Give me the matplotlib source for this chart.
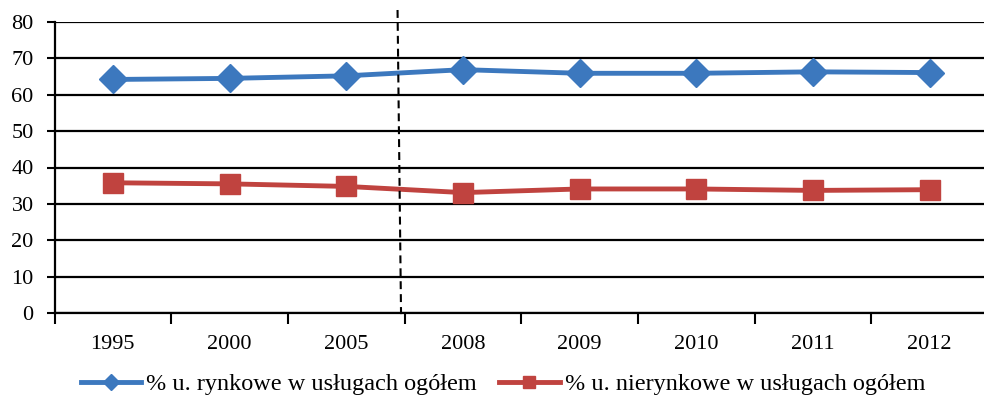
import matplotlib
matplotlib.use("Agg")
import matplotlib.pyplot as plt

years = ["1995", "2000", "2005", "2008", "2009", "2010", "2011", "2012"]
rynkowe = [64.2, 64.5, 65.2, 66.9, 65.9, 65.9, 66.3, 66.1]
nierynkowe = [35.8, 35.5, 34.8, 33.1, 34.1, 34.1, 33.7, 33.9]
label_r = "% u. rynkowe w usługach ogółem"
label_n = "% u. nierynkowe w usługach ogółem"

plt.rcParams['font.family'] = ['Liberation Serif', 'DejaVu Serif']

fig = plt.figure(figsize=(9.84, 4.0), dpi=100)
ax = fig.add_axes([0.0554, 0.2175, 0.9486, 0.7275])

x = list(range(len(years)))
ax.plot(x, rynkowe, color='#3C78BE', lw=3.5, marker='D', ms=14, label=label_r, zorder=3)
ax.plot(x, nierynkowe, color='#C0433F', lw=3.5, marker='s', ms=14, label=label_n, zorder=3)

ax.plot([2.44, 2.47], [83.3, -0.3], color='black', lw=1.5, ls=(0, (3.8, 2.4)), clip_on=False, zorder=4)

ax.set_xlim(-0.5, 7.5)
ax.set_ylim(0, 80)
ax.set_yticks(range(0, 81, 10))
ax.yaxis.grid(True, color='black', lw=1.6)
ax.set_axisbelow(True)
ax.set_xticks(x)
ax.set_xticklabels(years)
ax.set_xticks([i + 0.5 for i in range(-1, 7)], minor=True)
ax.tick_params(axis='x', which='major', length=0, pad=16, labelsize=16)
ax.tick_params(axis='x', which='minor', length=8, width=1.5, direction='out')
ax.tick_params(axis='y', length=6, width=1.5, labelsize=16, pad=9)
for s in ['top', 'right']:
    ax.spines[s].set_visible(False)
for s in ['left', 'bottom']:
    ax.spines[s].set_linewidth(1.6)

fig.legend(loc='center', bbox_to_anchor=(0.511, 0.04), ncol=2, frameon=False,
           fontsize=17.5, handlelength=2.5, columnspacing=0.9, handletextpad=0.2,
           markerscale=0.6)

fig.savefig("out.png", dpi=100)
